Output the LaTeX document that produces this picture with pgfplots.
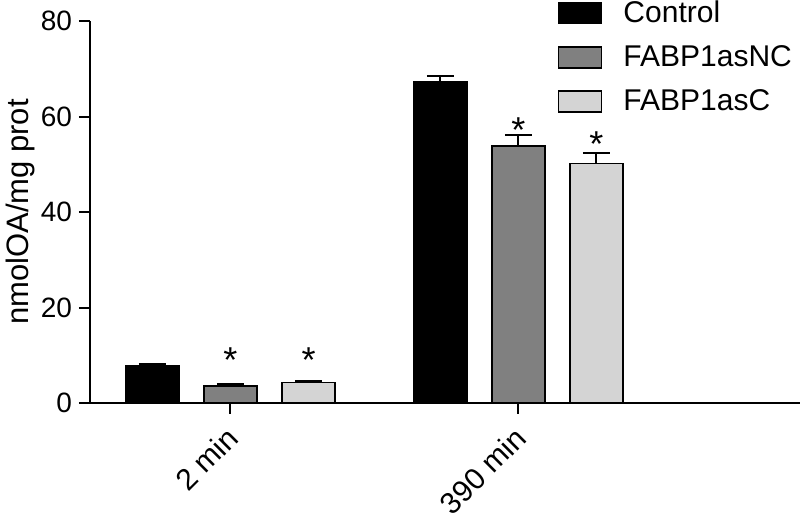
\documentclass[border=0pt]{standalone}
\usepackage{fontspec}
\setmainfont{Liberation Sans}
\usepackage{pgfplots}
\pgfplotsset{compat=1.18}
\definecolor{ncgray}{HTML}{808080}
\definecolor{cgray}{HTML}{D4D4D4}
\begin{document}
\begin{tikzpicture}
\pgfplotsset{
  errstyle/.style={error bars/.cd, y dir=plus, y explicit,
    error bar style={line width=1pt,black},
    error mark options={rotate=90,line width=1pt,mark size=6.75pt,black}},
  barbox/.style={legend image code/.code={
    \draw[##1,line width=0.8pt] (0pt,-5.25pt) rectangle (21.5pt,5.25pt);
    \path (30pt,0pt);}}
}
\begin{axis}[
  at={(0,0)}, anchor=south west,
  scale only axis, width=355pt, height=191pt,
  xmin=0.199, xmax=9.30, ymin=0, ymax=80,
  axis x line=bottom, axis y line=left,
  axis line style={-,line width=1pt},
  every tick/.style={black,line width=1pt},
  tick align=outside, major tick length=5.5pt,
  ytick={0,20,40,60,80},
  xtick={2,5.69}, xticklabels={2 min,390 min},
  yticklabel style={font=\fontsize{14}{16}\selectfont},
  xticklabel style={font=\fontsize{15}{17}\selectfont,
    xshift=3.5pt,yshift=-7pt,rotate=45,anchor=east},
  /pgf/number format/assume math mode=true,
  ylabel={nmolOA/mg prot},
  ylabel style={font=\fontsize{15.5}{17}\selectfont,
    at={(axis description cs:-0.068,0.5)},anchor=south},
  legend style={at={(axis description cs:0.650,1.075)},anchor=north west,
    draw=none,fill=none,font=\fontsize{15}{17}\selectfont,row sep=6pt},
  legend cell align=left,
  clip=false,
]
\addplot[ybar,bar width=0.68,bar shift=0pt,fill=black,draw=black,line width=0.8pt,barbox,errstyle]
  coordinates {(1,7.75) +- (0,0.45) (4.69,67.2) +- (0,1.3)};
\addlegendentry{Control}
\addplot[ybar,bar width=0.68,bar shift=0pt,fill=ncgray,draw=black,line width=0.8pt,barbox,errstyle]
  coordinates {(2,3.6) +- (0,0.4) (5.69,53.8) +- (0,2.3)};
\addlegendentry{FABP1asNC}
\addplot[ybar,bar width=0.68,bar shift=0pt,fill=cgray,draw=black,line width=0.8pt,barbox,errstyle]
  coordinates {(3,4.3) +- (0,0.4) (6.69,50.2) +- (0,2.1)};
\addlegendentry{FABP1asC}
\begin{scope}[every node/.style={font=\fontsize{18}{20}\selectfont,anchor=base,inner sep=0pt}]
\node at (axis cs:2,6.37) {*};
\node at (axis cs:3,6.37) {*};
\node at (axis cs:5.69,54.47) {*};
\node at (axis cs:6.69,51.57) {*};
\end{scope}
\end{axis}
\pgfresetboundingbox
\path[use as bounding box] (-45pt,-55.5pt) rectangle (355pt,201.5pt);
\end{tikzpicture}
\end{document}
